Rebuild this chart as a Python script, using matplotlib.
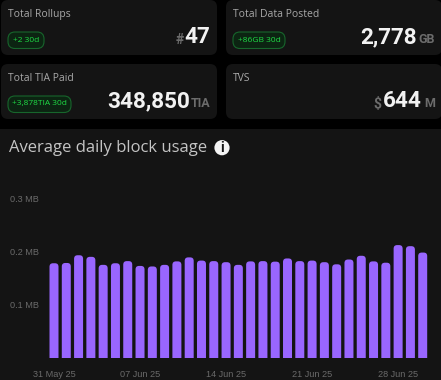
import matplotlib
matplotlib.use("Agg")
import matplotlib.pyplot as plt
from matplotlib.patches import FancyBboxPatch, Circle, PathPatch
from matplotlib.path import Path

# значения
days = ["31 May 25", "01 Jun 25", "02 Jun 25", "03 Jun 25", "04 Jun 25", "05 Jun 25", "06 Jun 25",
        "07 Jun 25", "08 Jun 25", "09 Jun 25", "10 Jun 25", "11 Jun 25", "12 Jun 25", "13 Jun 25",
        "14 Jun 25", "15 Jun 25", "16 Jun 25", "17 Jun 25", "18 Jun 25", "19 Jun 25", "20 Jun 25",
        "21 Jun 25", "22 Jun 25", "23 Jun 25", "24 Jun 25", "25 Jun 25", "26 Jun 25", "27 Jun 25",
        "28 Jun 25", "29 Jun 25", "30 Jun 25"]
usage = [0.178, 0.1785, 0.193, 0.190, 0.175, 0.178, 0.182, 0.173, 0.172, 0.175, 0.1815,
         0.189, 0.183, 0.182, 0.180, 0.175, 0.1815, 0.182, 0.181, 0.187, 0.182, 0.183,
         0.180, 0.176, 0.185, 0.192, 0.1815, 0.179, 0.212, 0.210, 0.198]
y_ticks = [0.1, 0.2, 0.3]
y_labels = ["0.1 MB", "0.2 MB", "0.3 MB"]
tick_step = 7

W, H = 441, 380
BAR = "#9966ff"
CARD = "#141414"
GREEN = "#1fdc45"

plt.rcParams['font.family'] = ['Lato', 'DejaVu Sans']
fig = plt.figure(figsize=(W / 100, H / 100), dpi=100, facecolor="black")

# фон в пикселях
bg = fig.add_axes([0, 0, 1, 1])
bg.set_xlim(0, W)
bg.set_ylim(H, 0)
bg.axis("off")


def rbox(x0, y0, x1, y1, r, fc, ec="none", lw=0):
    bg.add_patch(FancyBboxPatch((x0 + r, y0 + r), x1 - x0 - 2 * r, y1 - y0 - 2 * r,
                                boxstyle=f"round,pad={r},rounding_size={r}",
                                fc=fc, ec=ec, lw=lw))


def card(x0, y0, title, pill, pill_w, number, num_right, unit, unit_x, prefix=None, prefix_x=0):
    rbox(x0, y0, x0 + 216, y0 + 55, 7, CARD)
    bg.text(x0 + 7, y0 + 14.5, title, color="#a8a8a8", fontsize=7.5, va="center", family="Open Sans")
    if pill:
        rbox(x0 + 7, y0 + 32, x0 + 7 + pill_w, y0 + 48.5, 7, "#0c2412", "#17662c", 0.8)
        bg.text(x0 + 7 + pill_w / 2, y0 + 40, pill, color=GREEN, fontsize=6, ha="center", va="center",
                family="Open Sans")
    bg.text(num_right, y0 + 37, number, color="#f2f2f2", fontsize=16.2, fontweight="bold", ha="right",
            va="center", family="Roboto")
    if unit:
        bg.text(unit_x, y0 + 39.5, unit, color="#6c6c6c", fontsize=9, fontweight="bold", ha="right",
                va="center", family="Roboto")
    if prefix:
        bg.text(prefix_x, y0 + 39.5, prefix, color="#6c6c6c", fontsize=10, fontweight="bold", ha="right",
                va="center", family="Roboto")


card(1, 0, "Total Rollups", "+2 30d", 36, "47", 210, None, 0, "#", 184)
card(226, 0, "Total Data Posted", "+86GB 30d", 52, "2,778", 417, "GB", 435)
card(1, 64, "Total TIA Paid", "+3,878TIA 30d", 63, "348,850", 190, "TIA", 210)
card(226, 64, "TVS", None, 0, "644", 422, "M", 435, "$", 381)

# панель графика
bg.fill_between([0, W], 129, H, color=CARD, lw=0)
bg.text(9, 148, "Average daily block usage", color="#c4c4c4", fontsize=12, va="center", family="Open Sans")
bg.add_patch(Circle((222, 147.7), 7.6, fc="#f4f4f4", ec="none"))
bg.text(222, 147.7, "i", color="#141414", fontsize=10, fontweight="bold", ha="center", va="center",
        family="Roboto")

# сам график
left, right, top, base = 44, 430, 190, 358.3
ax = fig.add_axes([left / W, (H - base) / H, (right - left) / W, (base - top) / H])
ax.patch.set_alpha(0)
px_x = 12.29   # пикселей на один день
px_y = 534     # пикселей на 1 MB
ax.set_xlim((left - 54) / px_x, (right - 54) / px_x)
ax.set_ylim(0, (base - top) / px_y)
half = 4.5 / px_x
rx = 3.5 / px_x
ry = 3.5 / px_y

for i, v in enumerate(usage):  # столбики со скруглённым верхом
    verts = [(i - half, 0), (i - half, v - ry), (i - half, v), (i - half + rx, v),
             (i + half - rx, v), (i + half, v), (i + half, v - ry), (i + half, 0), (i - half, 0)]
    codes = [Path.MOVETO, Path.LINETO, Path.CURVE3, Path.CURVE3,
             Path.LINETO, Path.CURVE3, Path.CURVE3, Path.LINETO, Path.CLOSEPOLY]
    ax.add_patch(PathPatch(Path(verts, codes), fc=BAR, ec="none"))

for s in ax.spines.values():
    s.set_visible(False)
ax.set_yticks(y_ticks, y_labels)
ax.set_xticks(range(0, len(days), tick_step), days[::tick_step])
ax.tick_params(length=0, colors="#6a6a6a", labelsize=6.6, labelfontfamily="Liberation Sans")
ax.tick_params(axis="x", pad=8.5)
ax.tick_params(axis="y", pad=3.5)

fig.savefig("out.png", dpi=100, facecolor="black")
